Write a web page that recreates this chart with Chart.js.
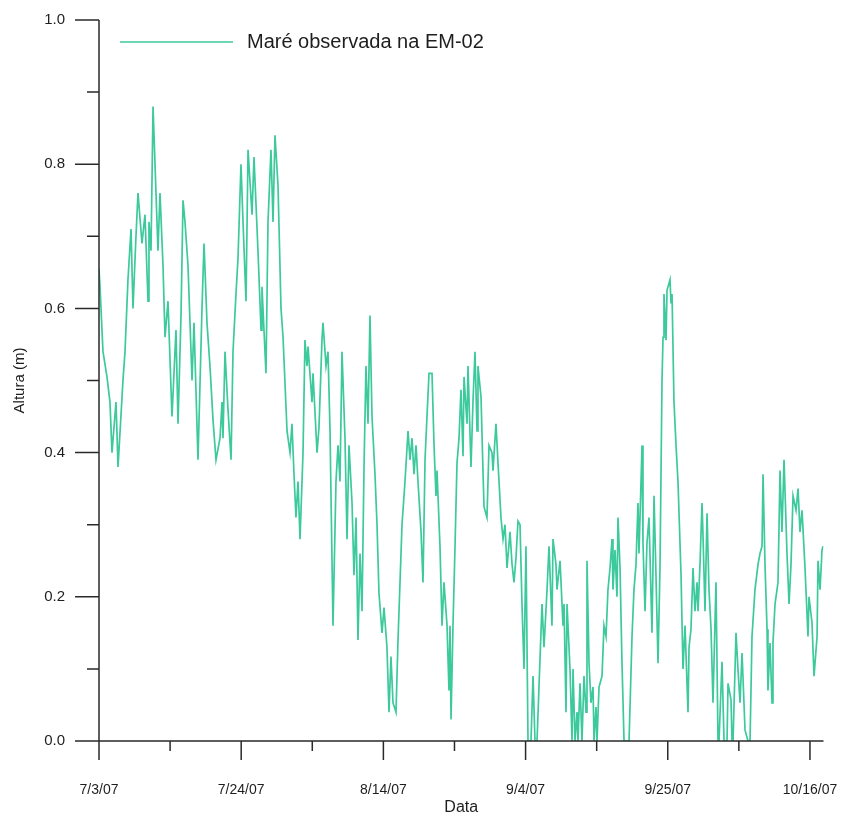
<!DOCTYPE html>
<html><head><meta charset="utf-8">
<script src="https://cdn.jsdelivr.net/npm/chart.js@4.4.0/dist/chart.umd.min.js"></script>
<style>html,body{margin:0;padding:0;background:#fff}</style>
</head><body>
<canvas id="c" width="848" height="820"></canvas>
<script>
const seriesName = 'Maré observada na EM-02';
const xTitle = 'Data';
const yTitle = 'Altura (m)';
// days since 7/3/07
const days = [0.00,0.15,0.59,1.18,1.62,1.92,2.51,2.81,3.54,3.84,4.28,4.73,5.02,5.46,5.76,6.35,6.79,7.24,7.38,7.68,7.98,8.71,9.01,9.45,9.75,10.19,10.78,11.37,11.67,12.11,12.41,12.70,13.14,13.74,14.03,14.62,
15.21,15.51,15.95,16.39,16.84,17.28,17.87,18.17,18.31,18.61,19.05,19.50,19.79,20.23,20.53,20.97,21.27,21.71,22.01,22.60,22.89,23.48,23.93,24.07,24.66,24.96,25.40,25.70,25.99,26.44,26.88,27.18,27.77,28.21,28.50,28.80,29.09,29.39,29.69,30.13,
30.42,30.72,30.87,31.46,31.61,32.20,32.49,32.93,33.08,33.53,33.82,34.12,34.56,35.00,35.30,35.59,35.89,36.33,36.63,36.92,37.37,37.66,37.96,38.25,38.55,38.84,39.14,39.43,39.73,40.02,40.32,40.76,41.06,41.35,41.80,42.09,42.53,42.83,43.12,43.42,43.86,44.16,44.75,45.19,45.64,
45.93,46.23,46.52,46.82,47.11,47.56,47.85,48.15,48.44,48.74,49.18,49.48,49.77,49.92,50.36,50.66,50.95,51.40,51.69,51.84,51.99,52.28,52.58,52.87,53.17,53.46,53.76,53.91,54.35,54.50,54.94,55.24,55.53,55.83,55.97,56.42,56.71,56.86,57.30,57.60,58.04,58.19,58.63,58.93,59.37,59.67,59.96,60.26,60.70,61.00,61.29,61.59,61.88,
62.18,62.47,62.77,63.06,63.36,63.80,64.10,64.39,64.69,64.98,65.43,65.72,66.17,66.46,66.90,67.05,67.49,67.64,68.09,68.53,68.68,68.97,69.12,69.56,69.86,70.01,70.30,70.60,70.74,71.04,71.33,71.63,71.93,72.07,72.37,72.66,72.96,73.11,73.40,73.55,73.85,74.29,74.58,74.88,75.17,75.47,75.77,75.91,76.21,76.50,76.65,76.95,77.24,77.54,77.98,78.28,78.72,79.01,79.31,79.60,79.75,80.20,80.34,80.64,80.93,81.23,81.67,81.97,82.26,82.56,82.85,83.15,83.30,83.44,83.74,83.89,84.18,
84.33,84.48,84.63,84.92,85.22,85.51,85.96,86.25,86.55,86.99,87.14,87.43,87.73,88.02,88.32,88.47,88.76,89.06,89.21,89.50,89.80,90.09,90.39,90.68,91.12,91.42,91.57,92.01,92.31,92.75,92.90,93.34,93.49,93.64,94.08,94.37,94.67,94.97,95.41,95.85,96.15,96.44,96.88,97.33,97.62,97.92,98.07,98.36,98.66,98.80,99.10,99.40,99.54,99.84,100.28,100.58,100.87,101.17,101.61,101.91,102.20,102.50,102.94,103.24,103.53,103.83,104.27,104.71,104.86,105.30,105.60,106.05,106.19,106.49,106.78,106.93];
const heights = [0.655,0.63,0.54,0.505,0.47,0.40,0.47,0.38,0.50,0.54,0.64,0.71,0.60,0.70,0.76,0.69,0.73,0.61,0.72,0.68,0.88,0.68,0.76,0.66,0.56,0.61,0.45,0.57,0.44,0.59,0.75,0.72,0.66,0.50,0.58,0.39,
0.60,0.69,0.58,0.52,0.445,0.39,0.42,0.47,0.42,0.54,0.46,0.39,0.54,0.62,0.67,0.80,0.72,0.61,0.82,0.73,0.81,0.68,0.57,0.63,0.51,0.72,0.82,0.72,0.84,0.77,0.60,0.56,0.43,0.40,0.44,0.37,0.31,0.36,0.28,0.40,
0.556,0.52,0.547,0.47,0.51,0.40,0.435,0.556,0.58,0.52,0.54,0.43,0.16,0.36,0.41,0.36,0.54,0.42,0.28,0.41,0.33,0.23,0.31,0.14,0.26,0.18,0.38,0.52,0.44,0.59,0.45,0.37,0.30,0.205,0.15,0.185,0.13,0.04,0.117,0.053,0.04,0.14,0.30,0.36,0.43,
0.39,0.42,0.37,0.41,0.36,0.29,0.22,0.39,0.45,0.51,0.51,0.41,0.34,0.375,0.27,0.16,0.22,0.16,0.07,0.16,0.03,0.16,0.27,0.385,0.42,0.487,0.395,0.505,0.44,0.52,0.38,0.473,0.54,0.43,0.52,0.477,0.375,0.325,0.31,0.41,0.40,0.375,0.44,0.385,0.31,0.28,0.30,0.24,0.29,0.245,0.22,0.255,0.305,
0.30,0.19,0.10,0.27,0,0,0.09,0,0,0.075,0.19,0.13,0.21,0.27,0.16,0.28,0.245,0.21,0.25,0.16,0.19,0.04,0.19,0.10,0,0.10,0,0.04,0,0.08,0,0.09,0.04,0.25,0.108,0.053,0.075,0,0.047,0,0.075,0.09,0.16,0.145,0.21,0.24,0.28,0.21,0.265,0.20,0.31,0.24,0.108,0,0,0,0.145,0.21,0.245,0.33,0.26,0.41,0.275,0.18,0.275,0.31,0.15,0.34,0.23,0.108,0.24,0.50,0.56,0.62,0.556,0.625,0.635,
0.64,0.607,0.62,0.47,0.41,0.36,0.23,0.10,0.16,0.04,0.13,0.155,0.24,0.18,0.22,0.18,0.245,0.33,0.283,0.18,0.316,0.21,0.155,0.053,0.22,0,0,0.11,0,0,0.08,0.057,0,0,0.15,0.10,0.053,0.122,0.015,0,0,0.145,0.21,0.245,0.26,0.27,0.37,0.245,0.155,0.07,0.136,0.053,0.136,0.19,0.22,0.375,0.29,0.39,0.26,0.19,0.245,0.34,0.32,0.35,0.29,0.32,0.24,0.145,0.20,0.164,0.09,0.145,0.25,0.21,0.265,0.27];
const xMajorTicks = [0, 21, 42, 63, 84, 105];
const xMinorTicks = [10.5, 31.5, 52.5, 73.5, 94.5];
const xTickLabels = ['7/3/07', '7/24/07', '8/14/07', '9/4/07', '9/25/07', '10/16/07'];
const yMajorTicks = [0, 0.2, 0.4, 0.6, 0.8, 1.0];
const yMinorTicks = [0.1, 0.3, 0.5, 0.7, 0.9];
const yTickLabels = ['0.0', '0.2', '0.4', '0.6', '0.8', '1.0'];
const xMin = 0, xMax = 107, yMin = 0, yMax = 1.0;

const lineColor = '#3cc99c';
const axisColor = '#2a2a2a';
const textColor = '#1e1e1e';
const FONT = '"Liberation Sans", Arial, Helvetica, sans-serif';

const points = days.map((d, i) => ({ x: d, y: heights[i] }));

function zeroPad(s) { s.paddingLeft = 0; s.paddingRight = 0; s.paddingTop = 0; s.paddingBottom = 0; }

const axesPlugin = {
  id: 'axesPlugin',
  afterDatasetsDraw(chart) {
    const { ctx, chartArea: a, scales: { x, y } } = chart;
    const y0 = y.getPixelForValue(yMin), y1 = y.getPixelForValue(yMax);
    const xl = x.getPixelForValue(xMin), xr = x.getPixelForValue(xMax);
    ctx.save();
    ctx.strokeStyle = axisColor;
    ctx.lineWidth = 1.5;
    ctx.beginPath();
    ctx.moveTo(xl, y1); ctx.lineTo(xl, y0);
    ctx.moveTo(xl, y0); ctx.lineTo(xr, y0);
    yMajorTicks.forEach(v => { const p = y.getPixelForValue(v); ctx.moveTo(xl - 24, p); ctx.lineTo(xl, p); });
    yMinorTicks.forEach(v => { const p = y.getPixelForValue(v); ctx.moveTo(xl - 12, p); ctx.lineTo(xl, p); });
    xMajorTicks.forEach(v => { const p = x.getPixelForValue(v); ctx.moveTo(p, y0); ctx.lineTo(p, y0 + 19); });
    xMinorTicks.forEach(v => { const p = x.getPixelForValue(v); ctx.moveTo(p, y0); ctx.lineTo(p, y0 + 10); });
    ctx.stroke();
    // legend
    ctx.strokeStyle = lineColor;
    ctx.lineWidth = 1.5;
    ctx.beginPath();
    ctx.moveTo(a.left + 21, 42); ctx.lineTo(a.left + 134, 42);
    ctx.stroke();
    ctx.fillStyle = textColor;
    ctx.font = '20px ' + FONT;
    ctx.textBaseline = 'middle';
    ctx.textAlign = 'left';
    ctx.fillText(seriesName, a.left + 148, 42);
    ctx.restore();
  }
};

new Chart(document.getElementById('c'), {
  type: 'line',
  data: {
    datasets: [{
      label: seriesName,
      data: points,
      borderColor: lineColor,
      borderWidth: 1.7,
      pointRadius: 0,
      tension: 0,
      fill: false
    }]
  },
  options: {
    responsive: false,
    animation: false,
    devicePixelRatio: 1,
    layout: { padding: { left: 0, top: 20, right: 24.5, bottom: 0 } },
    plugins: { legend: { display: false }, tooltip: { enabled: false } },
    scales: {
      x: {
        type: 'linear', min: xMin, max: xMax,
        grid: { display: true, drawOnChartArea: false, drawTicks: false, color: 'transparent' },
        border: { display: false },
        afterBuildTicks: s => { s.ticks = xMajorTicks.map(v => ({ value: v })); },
        afterFit: s => { s.height = 79; zeroPad(s); },
        ticks: {
          autoSkip: false, maxRotation: 0, padding: 41,
          color: textColor, font: { family: FONT, size: 14 },
          callback: (v, i) => xTickLabels[i]
        },
        title: { display: true, text: xTitle, color: textColor, font: { family: FONT, size: 16 }, padding: { top: 0, bottom: 3 } }
      },
      y: {
        type: 'linear', min: yMin, max: yMax,
        grid: { display: true, drawOnChartArea: false, drawTicks: false, color: 'transparent' },
        border: { display: false },
        afterBuildTicks: s => { s.ticks = yMajorTicks.map(v => ({ value: v })); },
        afterFit: s => { s.width = 99; zeroPad(s); },
        ticks: {
          autoSkip: false, padding: 34,
          color: textColor, font: { family: FONT, size: 15 },
          callback: (v, i) => yTickLabels[i]
        },
        title: { display: true, text: yTitle, color: textColor, font: { family: FONT, size: 15 }, padding: { top: 11, bottom: 0 } }
      }
    }
  },
  plugins: [axesPlugin]
});
</script>
</body></html>
